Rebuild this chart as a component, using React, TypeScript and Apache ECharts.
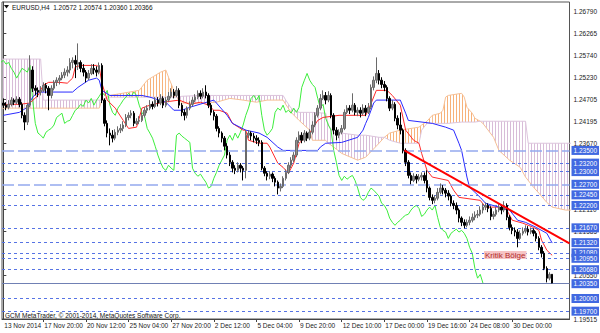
import React, { useEffect, useRef } from "react";
import * as echarts from "echarts";

const SYMBOL = "EURUSD,H4";
const LAST_BAR = "1.20572 1.20574 1.20360 1.20366";
const COPYRIGHT = "GCM MetaTrader, © 2001-2014, MetaQuotes Software Corp.";
const ZONE_LABEL = "Kritik Bölge";

// H4 candles: [open, close, low, high]
const ohlc: number[][] = [
  [1.2462,1.2457,1.2450,1.2473],[1.2457,1.2452,1.2445,1.2464],[1.2452,1.2459,1.2447,1.2469],[1.2459,1.2469,1.2454,1.2476],[1.2469,1.2464,1.2457,1.2473],
  [1.2464,1.2471,1.2459,1.2478],[1.2471,1.2459,1.2452,1.2476],[1.2459,1.2433,1.2426,1.2464],[1.2433,1.2417,1.2398,1.2440],[1.2417,1.2457,1.2410,1.2462],
  [1.2457,1.2540,1.2452,1.2575],[1.2540,1.2497,1.2488,1.2549],[1.2497,1.2492,1.2480,1.2504],[1.2492,1.2488,1.2476,1.2499],[1.2488,1.2492,1.2480,1.2502],
  [1.2492,1.2504,1.2488,1.2511],[1.2504,1.2497,1.2485,1.2509],[1.2497,1.2480,1.2445,1.2502],[1.2480,1.2497,1.2473,1.2504],[1.2497,1.2511,1.2492,1.2516],
  [1.2511,1.2516,1.2502,1.2523],[1.2516,1.2521,1.2506,1.2528],[1.2521,1.2528,1.2516,1.2535],[1.2528,1.2535,1.2521,1.2544],[1.2535,1.2540,1.2525,1.2549],
  [1.2540,1.2558,1.2532,1.2568],[1.2558,1.2563,1.2544,1.2570],[1.2563,1.2554,1.2521,1.2575],[1.2554,1.2558,1.2540,1.2603],[1.2558,1.2544,1.2535,1.2563],
  [1.2544,1.2535,1.2525,1.2554],[1.2535,1.2521,1.2511,1.2540],[1.2521,1.2532,1.2516,1.2540],[1.2532,1.2544,1.2528,1.2554],[1.2544,1.2540,1.2530,1.2554],
  [1.2540,1.2535,1.2525,1.2549],[1.2535,1.2551,1.2530,1.2558],[1.2551,1.2469,1.2462,1.2556],[1.2469,1.2414,1.2407,1.2473],[1.2414,1.2391,1.2381,1.2421],
  [1.2391,1.2386,1.2362,1.2402],[1.2386,1.2379,1.2369,1.2398],[1.2379,1.2393,1.2374,1.2400],[1.2393,1.2398,1.2386,1.2407],[1.2398,1.2402,1.2391,1.2412],
  [1.2402,1.2410,1.2395,1.2419],[1.2410,1.2428,1.2405,1.2436],[1.2428,1.2433,1.2421,1.2440],[1.2433,1.2438,1.2426,1.2445],[1.2438,1.2414,1.2407,1.2443],
  [1.2414,1.2419,1.2410,1.2426],[1.2419,1.2421,1.2412,1.2431],[1.2421,1.2433,1.2417,1.2440],[1.2433,1.2445,1.2428,1.2452],[1.2445,1.2450,1.2438,1.2457],
  [1.2450,1.2459,1.2445,1.2469],[1.2459,1.2454,1.2447,1.2466],[1.2454,1.2469,1.2450,1.2476],[1.2469,1.2462,1.2454,1.2476],[1.2462,1.2473,1.2457,1.2483],
  [1.2473,1.2457,1.2450,1.2478],[1.2457,1.2469,1.2452,1.2476],[1.2469,1.2478,1.2464,1.2488],[1.2478,1.2488,1.2473,1.2497],[1.2488,1.2480,1.2473,1.2495],
  [1.2480,1.2492,1.2476,1.2502],[1.2492,1.2457,1.2450,1.2497],[1.2457,1.2440,1.2431,1.2462],[1.2440,1.2433,1.2421,1.2447],[1.2433,1.2450,1.2426,1.2454],
  [1.2450,1.2459,1.2445,1.2466],[1.2459,1.2469,1.2454,1.2476],[1.2469,1.2476,1.2464,1.2483],[1.2476,1.2485,1.2471,1.2492],[1.2485,1.2478,1.2471,1.2492],
  [1.2478,1.2488,1.2473,1.2497],[1.2488,1.2480,1.2473,1.2504],[1.2480,1.2457,1.2450,1.2485],[1.2457,1.2440,1.2433,1.2462],[1.2440,1.2431,1.2421,1.2445],
  [1.2431,1.2402,1.2395,1.2436],[1.2402,1.2391,1.2381,1.2407],[1.2391,1.2379,1.2369,1.2395],[1.2379,1.2360,1.2350,1.2384],[1.2360,1.2339,1.2331,1.2367],
  [1.2339,1.2322,1.2313,1.2346],[1.2322,1.2308,1.2298,1.2327],[1.2308,1.2303,1.2294,1.2315],[1.2303,1.2315,1.2298,1.2322],[1.2315,1.2308,1.2298,1.2320],
  [1.2308,1.2303,1.2279,1.2313],[1.2303,1.2386,1.2284,1.2398],[1.2386,1.2391,1.2379,1.2398],[1.2391,1.2384,1.2374,1.2395],[1.2384,1.2379,1.2369,1.2391],
  [1.2379,1.2374,1.2365,1.2386],[1.2374,1.2369,1.2360,1.2381],[1.2369,1.2308,1.2303,1.2374],[1.2308,1.2296,1.2289,1.2313],[1.2296,1.2289,1.2279,1.2301],
  [1.2289,1.2294,1.2282,1.2301],[1.2294,1.2284,1.2275,1.2298],[1.2284,1.2275,1.2265,1.2289],[1.2275,1.2261,1.2246,1.2279],[1.2261,1.2265,1.2253,1.2272],
  [1.2265,1.2284,1.2261,1.2289],[1.2284,1.2298,1.2279,1.2305],[1.2298,1.2315,1.2294,1.2322],[1.2315,1.2327,1.2308,1.2334],[1.2327,1.2339,1.2322,1.2346],
  [1.2339,1.2374,1.2334,1.2381],[1.2374,1.2386,1.2367,1.2395],[1.2386,1.2374,1.2367,1.2393],[1.2374,1.2391,1.2369,1.2398],[1.2391,1.2379,1.2372,1.2395],
  [1.2379,1.2393,1.2374,1.2400],[1.2393,1.2410,1.2388,1.2419],[1.2410,1.2433,1.2405,1.2440],[1.2433,1.2450,1.2428,1.2457],[1.2450,1.2473,1.2445,1.2483],
  [1.2473,1.2480,1.2469,1.2492],[1.2480,1.2469,1.2459,1.2488],[1.2469,1.2480,1.2464,1.2490],[1.2480,1.2433,1.2426,1.2485],[1.2433,1.2398,1.2388,1.2438],
  [1.2398,1.2386,1.2374,1.2405],[1.2386,1.2393,1.2379,1.2400],[1.2393,1.2402,1.2388,1.2410],[1.2402,1.2440,1.2398,1.2447],[1.2440,1.2450,1.2436,1.2457],
  [1.2450,1.2445,1.2436,1.2457],[1.2445,1.2457,1.2440,1.2485],[1.2457,1.2440,1.2433,1.2462],[1.2440,1.2445,1.2431,1.2452],[1.2445,1.2438,1.2428,1.2452],
  [1.2438,1.2450,1.2433,1.2459],[1.2450,1.2440,1.2431,1.2457],[1.2440,1.2452,1.2436,1.2462],[1.2452,1.2499,1.2447,1.2506],[1.2499,1.2516,1.2492,1.2525],
  [1.2516,1.2532,1.2509,1.2570],[1.2532,1.2516,1.2506,1.2540],[1.2516,1.2506,1.2497,1.2523],[1.2506,1.2499,1.2490,1.2514],[1.2499,1.2473,1.2466,1.2504],
  [1.2473,1.2450,1.2443,1.2478],[1.2450,1.2459,1.2445,1.2469],[1.2459,1.2426,1.2419,1.2464],[1.2426,1.2410,1.2400,1.2433],[1.2410,1.2398,1.2388,1.2440],
  [1.2398,1.2350,1.2343,1.2402],[1.2350,1.2322,1.2313,1.2355],[1.2322,1.2291,1.2284,1.2327],[1.2291,1.2279,1.2270,1.2298],[1.2279,1.2289,1.2275,1.2296],
  [1.2289,1.2282,1.2272,1.2294],[1.2282,1.2287,1.2277,1.2294],[1.2287,1.2291,1.2279,1.2298],[1.2291,1.2279,1.2272,1.2298],[1.2279,1.2261,1.2251,1.2303],
  [1.2261,1.2239,1.2232,1.2265],[1.2239,1.2232,1.2223,1.2246],[1.2232,1.2237,1.2225,1.2244],[1.2237,1.2251,1.2232,1.2261],[1.2251,1.2261,1.2246,1.2272],
  [1.2261,1.2256,1.2246,1.2268],[1.2256,1.2249,1.2239,1.2261],[1.2249,1.2242,1.2232,1.2256],[1.2242,1.2225,1.2218,1.2246],[1.2225,1.2220,1.2211,1.2232],
  [1.2220,1.2209,1.2199,1.2227],[1.2209,1.2190,1.2180,1.2213],[1.2190,1.2180,1.2171,1.2194],[1.2180,1.2173,1.2166,1.2187],[1.2173,1.2180,1.2168,1.2187],
  [1.2180,1.2185,1.2173,1.2194],[1.2185,1.2192,1.2180,1.2201],[1.2192,1.2197,1.2185,1.2206],[1.2197,1.2199,1.2190,1.2209],[1.2199,1.2209,1.2194,1.2218],
  [1.2209,1.2216,1.2201,1.2225],[1.2216,1.2220,1.2209,1.2227],[1.2220,1.2213,1.2204,1.2225],[1.2213,1.2194,1.2185,1.2218],[1.2194,1.2199,1.2187,1.2206],
  [1.2199,1.2209,1.2194,1.2216],[1.2209,1.2216,1.2204,1.2223],[1.2216,1.2209,1.2199,1.2220],[1.2209,1.2220,1.2204,1.2230],[1.2220,1.2192,1.2185,1.2225],
  [1.2192,1.2168,1.2161,1.2197],[1.2168,1.2161,1.2152,1.2175],[1.2161,1.2157,1.2147,1.2168],[1.2157,1.2142,1.2121,1.2164],[1.2142,1.2154,1.2138,1.2161],
  [1.2154,1.2159,1.2149,1.2168],[1.2159,1.2164,1.2154,1.2173],[1.2164,1.2157,1.2149,1.2171],[1.2157,1.2161,1.2152,1.2168],[1.2161,1.2154,1.2147,1.2166],
  [1.2154,1.2142,1.2135,1.2159],[1.2142,1.2121,1.2114,1.2147],[1.2121,1.2107,1.2097,1.2126],[1.2107,1.2071,1.2067,1.2112],[1.2071,1.2048,1.2038,1.2076],
  [1.2048,1.2057,1.2043,1.2062],[1.20572,1.20366,1.2036,1.20574],
];

// Ichimoku lines: [bar, price]
const tenkan: number[][] = [
  [0,1.2457],[2,1.2459],[6,1.2459],[10,1.2462],[13,1.2480],[15,1.2504],[17,1.2511],[21,1.2511],[24,1.2509],[26,1.2521],[27,1.2547],[29,1.2551],
  [35,1.2551],[36,1.2547],[37,1.2509],[39,1.2469],[42,1.2450],[45,1.2421],[47,1.2402],[50,1.2405],[51,1.2426],[52,1.2450],[55,1.2457],[60,1.2464],
  [66,1.2469],[70,1.2459],[74,1.2464],[77,1.2457],[79,1.2445],[81,1.2445],[84,1.2438],[86,1.2414],[90,1.2398],[91,1.2398],[92,1.2374],[96,1.2367],
  [99,1.2367],[100,1.2358],[103,1.2320],[105,1.2310],[107,1.2296],[109,1.2320],[110,1.2343],[111,1.2367],[115,1.2391],[118,1.2421],[120,1.2428],
  [126,1.2433],[136,1.2433],[137,1.2445],[140,1.2492],[144,1.2492],[146,1.2480],[149,1.2457],[151,1.2398],[154,1.2374],[156,1.2367],[157,1.2343],
  [159,1.2303],[161,1.2287],[167,1.2279],[169,1.2256],[171,1.2239],[179,1.2232],[181,1.2216],[186,1.2216],[189,1.2209],[191,1.2185],[195,1.2178],
  [199,1.2168],[201,1.2161],[202,1.2138],[204,1.2114],[206,1.2102],
];
const kijun: number[][] = [
  [0,1.2433],[6,1.2440],[9,1.2452],[11,1.2476],[13,1.2488],[26,1.2488],[28,1.2499],[32,1.2516],[35,1.2521],[36,1.2516],[37,1.2492],[40,1.2480],
  [52,1.2480],[55,1.2476],[61,1.2464],[64,1.2445],[67,1.2445],[70,1.2452],[79,1.2469],[80,1.2462],[84,1.2433],[86,1.2414],[91,1.2398],[96,1.2391],
  [99,1.2381],[103,1.2358],[105,1.2350],[118,1.2350],[119,1.2358],[121,1.2367],[127,1.2369],[133,1.2381],[135,1.2398],[136,1.2414],[137,1.2428],
  [139,1.2462],[140,1.2469],[149,1.2469],[151,1.2438],[152,1.2421],[161,1.2414],[166,1.2405],[169,1.2398],[171,1.2367],[172,1.2350],[174,1.2287],
  [175,1.2263],[179,1.2239],[181,1.2225],[186,1.2216],[190,1.2209],[193,1.2185],[196,1.2180],[200,1.2168],[204,1.2154],[206,1.2131],
];
const cloudIdx = [-0.5,14,15,36,37,40,51,54,59,61,62,64,65,67,74,80,85,90,95,99,105,106,108,111,115,116,121,122,124,127,133,136,141,143,145,149,156,157,159,161,164,165,166,167,172,173,174,176,177,179,180,184,186,190,194,196,197,199,201,204,206,211,213];
const spanA = [1.2450,1.2450,1.2450,1.2450,1.2469,1.2480,1.2492,1.2516,1.2535,1.2540,1.2523,1.2492,1.2476,1.2462,1.2462,1.2464,1.2473,1.2469,1.2464,1.2469,1.2469,1.2459,1.2440,1.2421,1.2398,1.2374,1.2374,1.2367,1.2358,1.2343,1.2327,1.2334,1.2367,1.2381,1.2391,1.2398,1.2405,1.2410,1.2419,1.2433,1.2438,1.2445,1.2476,1.2480,1.2485,1.2476,1.2452,1.2438,1.2426,1.2419,1.2414,1.2381,1.2350,1.2327,1.2310,1.2287,1.2279,1.2263,1.2249,1.2227,1.2216,1.2209,1.2209];
const spanB = [1.2566,1.2566,1.2469,1.2469,1.2469,1.2476,1.2476,1.2476,1.2476,1.2476,1.2476,1.2476,1.2476,1.2478,1.2480,1.2480,1.2480,1.2480,1.2480,1.2480,1.2480,1.2469,1.2450,1.2440,1.2440,1.2440,1.2438,1.2410,1.2391,1.2391,1.2386,1.2386,1.2381,1.2381,1.2374,1.2367,1.2367,1.2398,1.2414,1.2414,1.2414,1.2414,1.2414,1.2414,1.2417,1.2417,1.2417,1.2417,1.2417,1.2419,1.2419,1.2419,1.2419,1.2419,1.2419,1.2419,1.2367,1.2367,1.2367,1.2367,1.2367,1.2367,1.2367];
const CHIKOU_SHIFT = 26;

const trendLine: number[][] = [[150.5, 1.2350], [212.5, 1.2130]];
const hLevels = [1.235, 1.232, 1.23, 1.227, 1.2245, 1.222, 1.2167, 1.2132, 1.2108, 1.2095, 1.2068, 1.2035, 1.2, 1.197];

const xTickIdx = [0, 15, 31, 47, 63, 79, 95, 111, 127, 143, 159, 175, 191];
const xTickLabels = ["13 Nov 2014", "17 Nov 20:00", "20 Nov 12:00", "25 Nov 04:00", "27 Nov 20:00", "2 Dec 12:00", "5 Dec 04:00", "9 Dec 20:00", "12 Dec 10:00", "17 Dec 00:00", "19 Dec 16:00", "24 Dec 08:00", "30 Dec 00:00"];
const yTickVals = [1.19515, 1.2055, 1.21585, 1.2211, 1.2367, 1.24195, 1.24705, 1.2523, 1.2574, 1.26265, 1.2679];

const FONT = '"Liberation Sans", Arial, sans-serif';

function stripe(color: string): any {
  const c = document.createElement("canvas");
  c.width = 3;
  c.height = 1;
  const ctx = c.getContext("2d");
  if (ctx) {
    ctx.fillStyle = color;
    ctx.fillRect(0, 0, 1, 1);
  }
  return { image: c, repeat: "repeat", imageWidth: 3, imageHeight: 1 };
}

export default function App() {
  const ref = useRef<HTMLDivElement>(null);
  useEffect(() => {
    if (!ref.current) return;
    const chart = echarts.init(ref.current, null, { renderer: "svg" });
    const orangeFill = stripe("#f7b27a");
    const thistleFill = stripe("#d8bcd8");

    const candleData = ohlc.map((d, i) => [i, d[0], d[1], d[2], d[3]]);
    const chikou = ohlc.map((d, i) => [i - CHIKOU_SHIFT, d[1]]);
    const segs = cloudIdx.slice(0, -1).map((v, k) => [v, spanA[k], spanB[k], cloudIdx[k + 1], spanA[k + 1], spanB[k + 1]]);

    const markData = hLevels.map((v) => {
      const longDash = v === 1.235 || v === 1.227;
      const solid = v === 1.2035;
      return {
        yAxis: v,
        lineStyle: longDash
          ? { color: "#94a9ee", width: 1.5, type: [12, 4] as any }
          : solid
          ? { color: "#7080b4", width: 1, type: "solid" as any }
          : { color: "#5673e4", width: 1, type: [3, 3] as any },
      };
    });

    chart.setOption({
      animation: false,
      backgroundColor: "#ffffff",
      grid: { left: 2, right: 29, top: 2, bottom: 14, show: true, borderColor: "#555", borderWidth: 1 },
      xAxis: {
        type: "value",
        min: -0.5,
        max: 212.5,
        axisLine: { show: true, lineStyle: { color: "#444" } },
        axisTick: { show: true, customValues: xTickIdx.slice(1), length: 3, lineStyle: { color: "#444" } },
        axisLabel: {
          customValues: xTickIdx,
          formatter: (v: number) => xTickLabels[xTickIdx.indexOf(Math.round(v))] || "",
          align: "left",
          padding: [0, 0, 0, 1],
          margin: 3,
          fontSize: 6.5,
          fontFamily: FONT,
          color: "#222",
        },
        splitLine: { show: false },
      },
      yAxis: {
        type: "value",
        position: "right",
        min: 1.19515,
        max: 1.27009,
        scale: true,
        axisLine: { show: true, lineStyle: { color: "#444" } },
        axisTick: { show: true, customValues: yTickVals, length: 3, lineStyle: { color: "#444" } },
        axisLabel: {
          customValues: yTickVals,
          formatter: (v: number) => v.toFixed(5),
          margin: 4,
          fontSize: 6.5,
          fontFamily: FONT,
          color: "#222",
        },
        splitLine: { show: false },
      },
      series: [
        {
          type: "custom",
          name: "cloud",
          clip: true,
          silent: true,
          z: 1,
          encode: { x: [0, 3], y: [1, 2, 4, 5] },
          data: segs,
          renderItem: (params: any, api: any) => {
            const i0 = api.value(0), a0 = api.value(1), b0 = api.value(2);
            const i1 = api.value(3), a1 = api.value(4), b1 = api.value(5);
            const orange = a0 + a1 > b0 + b1;
            return {
              type: "polygon",
              shape: { points: [api.coord([i0, a0]), api.coord([i1, a1]), api.coord([i1, b1]), api.coord([i0, b0])] },
              style: { fill: orange ? orangeFill : thistleFill, stroke: null },
            };
          },
        },
        {
          type: "line", name: "spanA", z: 2, silent: true, showSymbol: false,
          data: cloudIdx.map((v, k) => [v, spanA[k]]),
          lineStyle: { color: "#f6c096", width: 1 },
        },
        {
          type: "line", name: "spanB", z: 2, silent: true, showSymbol: false,
          data: cloudIdx.map((v, k) => [v, spanB[k]]),
          lineStyle: { color: "#dcc4dc", width: 1 },
        },
        {
          type: "line", name: "levels", z: 3, silent: true, data: [],
          markLine: {
            silent: true,
            symbol: "none",
            animation: false,
            precision: 5,
            data: markData,
            label: {
              show: true,
              position: "end",
              distance: 2,
              formatter: (p: any) => Number(p.value).toFixed(5),
              backgroundColor: "#4169e1",
              color: "#ffffff",
              fontSize: 6.5,
              fontFamily: FONT,
              padding: [1, 2, 1, 2],
            },
          },
        },
        {
          type: "line", name: "chikou", z: 4, silent: true, showSymbol: false,
          data: chikou,
          lineStyle: { color: "#3ded3d", width: 1 },
        },
        {
          type: "line", name: "tenkan", z: 4, silent: true, showSymbol: false,
          data: tenkan,
          lineStyle: { color: "#ff2a2a", width: 1 },
        },
        {
          type: "line", name: "kijun", z: 4, silent: true, showSymbol: false,
          data: kijun,
          lineStyle: { color: "#2a2aff", width: 1 },
        },
        {
          type: "candlestick", name: SYMBOL, z: 5, silent: true,
          barWidth: 2,
          data: candleData,
          itemStyle: { color: "#8e8e8e", color0: "#000000", borderColor: "#6a6a6a", borderColor0: "#000000", borderWidth: 1 },
        },
        {
          type: "line", name: "trend", z: 6, silent: true, showSymbol: false,
          data: trendLine,
          lineStyle: { color: "#ff0000", width: 2 },
        },
      ],
      graphic: [
        { type: "polygon", shape: { points: [[4, 5], [9, 5], [6.5, 8.5]] }, style: { fill: "#111" } },
        { type: "text", x: 12, y: 7, style: { text: SYMBOL + "  " + LAST_BAR, fill: "#111", fontSize: 6.5, fontFamily: FONT, verticalAlign: "middle" } },
        { type: "text", x: 5, y: 315, style: { text: COPYRIGHT, fill: "#111", fontSize: 6.5, fontFamily: FONT, verticalAlign: "middle" } },
        {
          type: "text", x: 484, y: 255, z: 10,
          style: { text: ZONE_LABEL, fill: "#b0282a", fontSize: 8, fontFamily: FONT, verticalAlign: "middle", backgroundColor: "#f6c4c4", padding: [0, 1, 0, 1] },
        },
      ],
    });
    return () => chart.dispose();
  }, []);
  return <div ref={ref} style={{ position: "fixed", left: 0, top: 0, width: 600, height: 333, background: "#fff" }} />;
}
